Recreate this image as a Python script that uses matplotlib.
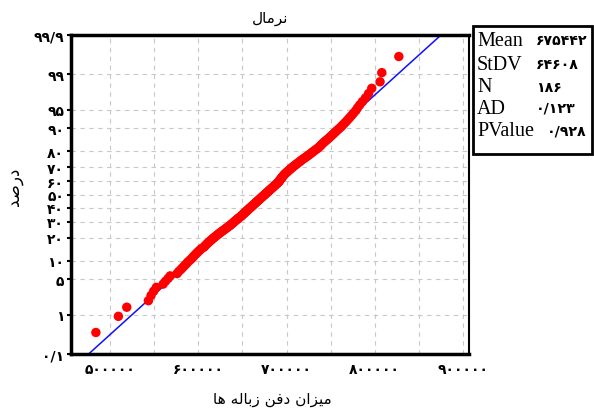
import matplotlib.pyplot as plt
from matplotlib.patches import Rectangle
from statistics import NormalDist

values = [
    484000, 509500, 519000, 543500, 546500, 549500, 552500, 560200, 563000, 565900,
    568200, 576000, 578000, 580500, 582500, 584500, 586500, 588000, 590000, 592000,
    593500, 595000, 596500, 598000, 599500, 601000, 602500, 604000, 606500, 607500,
    608800, 610000, 611300, 612600, 614000, 615300, 616600, 618000, 619300, 620700,
    622000, 623300, 624700, 626000, 627400, 628800, 630200, 631500, 632800, 634000,
    635500, 636500, 637700, 638800, 639800, 640800, 641800, 642900, 643900, 645000,
    646000, 647200, 648500, 649300, 650000, 651200, 652000, 652600, 653900, 654500,
    655800, 656300, 657500, 658100, 659300, 660000, 661200, 661700, 662800, 663500,
    664600, 665200, 666400, 667000, 668100, 668800, 669900, 670500, 671600, 672300,
    673300, 674000, 675100, 675800, 676900, 677500, 678600, 679200, 680300, 681000,
    682100, 682700, 683900, 684500, 685600, 686300, 687300, 688000, 689200, 689800,
    690900, 691600, 691800, 692500, 693200, 693800, 694400, 695100, 695700, 696400,
    697200, 697800, 698800, 699700, 700700, 701600, 702600, 703600, 704600, 705600,
    706800, 707900, 709000, 710200, 711400, 712600, 713900, 715100, 716300, 717600,
    719000, 720500, 722000, 723300, 724800, 726200, 727600, 729000, 730500, 731800,
    733400, 735000, 736500, 737800, 739000, 740200, 741500, 743000, 744500, 746200,
    747800, 749300, 751000, 752600, 754300, 756000, 757800, 759800, 761800, 763500,
    765500, 767500, 769500, 771600, 773800, 776000, 778500, 780500, 783000, 786000,
    789500, 793000, 796600, 806000, 808000, 827300,
]

mean = 675442
stdev = 64608

pct_ticks = [0.1, 1, 5, 10, 20, 30, 40, 50, 60, 70, 80, 90, 95, 99, 99.9]
pct_labels = ['۰/۱', '۱', '۵', '۱۰', '۲۰', '۳۰', '۴۰', '۵۰', '۶۰', '۷۰',
              '۸۰', '۹۰', '۹۵', '۹۹', '۹۹/۹']
x_ticks = [500000, 600000, 700000, 800000, 900000]
x_grid = [500000, 550000, 600000, 650000, 700000, 750000, 800000, 850000, 900000]
x_labels = ['۵۰۰۰۰۰', '۶۰۰۰۰۰', '۷۰۰۰۰۰', '۸۰۰۰۰۰', '۹۰۰۰۰۰']

stat_names = ['Mean', 'StDV', 'N', 'AD', 'PValue']
stat_values = ['۶۷۵۴۴۲', '۶۴۶۰۸', '۱۸۶', '۰/۱۲۳', '۰/۹۲۸']

# Persian labels written in visual order with presentation forms
title_txt = '\uFEDD\uFE8E\uFEE3\uFEAE\uFEE7'          # نرمال
ylabel_txt = '\uFEAA\uFEBB\uFEAD\uFEA9'                # درصد
xlabel_txt = ('\uFE8E\uFEEB \uFEEA\uFEDF\uFE8E\uFE91\uFEAF '
              '\uFEE6\uFED3\uFEA9 \uFEE5\uFE8D\uFEB0\uFEF4\uFEE3')  # میزان دفن زباله ها

nd = NormalDist()
n = len(values)
z_pts = [nd.inv_cdf((i - 0.3) / (n + 0.4)) for i in range(1, n + 1)]
z_ticks = [nd.inv_cdf(p / 100) for p in pct_ticks]
z_lo, z_hi = z_ticks[0], z_ticks[-1]

fig = plt.figure(figsize=(5.94, 4.14), dpi=100)
ax = fig.add_axes([71 / 594, 59 / 414, 398 / 594, 319 / 414])

for xv in x_grid:
    ax.axvline(xv, color='#c8c8c8', lw=0.8, ls=(0, (4, 4)), zorder=0)
for zv in z_ticks[1:-1]:
    ax.axhline(zv, color='#c8c8c8', lw=0.8, ls=(0, (4, 4)), zorder=0)

ax.plot([mean + stdev * z_lo, mean + stdev * z_hi], [z_lo, z_hi],
        color='#1010ff', lw=1.1, zorder=2)
ax.scatter(values, z_pts, s=46, color='#ff0000', edgecolors='none', zorder=3)

ax.set_xlim(455800, 906800)
ax.set_ylim(z_lo, z_hi)
ax.set_xticks(x_ticks)
ax.set_xticklabels(x_labels, family=['DejaVu Sans'], fontsize=10, fontweight='bold')
ax.set_yticks(z_ticks)
ax.set_yticklabels(pct_labels, family=['DejaVu Sans'], fontsize=10, fontweight='bold')
ax.tick_params(axis='y', length=3, width=1.5, pad=2)
ax.tick_params(axis='x', length=0, pad=6)

for side in ['left', 'bottom', 'top']:
    ax.spines[side].set_linewidth(2.5)
ax.spines['right'].set_linewidth(1.5)

fig.text(270 / 594, 1 - 18 / 414, title_txt, ha='center', va='center',
         family=['DejaVu Sans'], fontsize=11)
fig.text(272 / 594, 1 - 400 / 414, xlabel_txt, ha='center', va='center',
         family=['DejaVu Sans'], fontsize=11)
fig.text(14 / 594, 1 - 187 / 414, ylabel_txt, ha='center', va='center',
         rotation=90, family=['DejaVu Sans'], fontsize=12)

# statistics box
fig.patches.append(Rectangle((473 / 594, 1 - 155 / 414), 119 / 594, 128 / 414,
                             transform=fig.transFigure, fill=False,
                             edgecolor='black', lw=2))
row_y = [41, 65, 88, 109, 132]
for name, val, yy in zip(stat_names, stat_values, row_y):
    fig.text(477 / 594, 1 - yy / 414, name, ha='left', va='center',
             family=['Liberation Serif'], fontsize=14.5)
    vx = 547 if name == 'PValue' else 536
    fig.text(vx / 594, 1 - yy / 414, val, ha='left', va='center',
             family=['DejaVu Sans'], fontsize=10.2, fontweight='bold')

fig.savefig('out.png', dpi=100)
